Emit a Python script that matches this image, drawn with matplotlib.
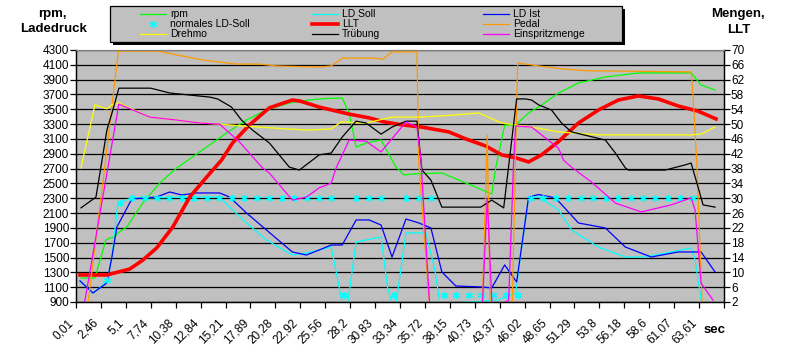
import numpy as np
import matplotlib.pyplot as plt
from matplotlib.patches import Rectangle
from matplotlib.lines import Line2D
from matplotlib.transforms import blended_transform_factory, ScaledTranslation

plt.rcParams['font.family'] = ['Liberation Sans', 'DejaVu Sans']

# Zeitachse (Kategorien), eine Einheit pro beschriftetem Tick
zeit_labels = ['0,01', '2,46', '5,1', '7,74', '10,38', '12,84', '15,21', '17,89',
               '20,28', '22,92', '25,56', '28,2', '30,83', '33,34', '35,72', '38,15',
               '40,73', '43,37', '46,02', '48,65', '51,29', '53,8', '56,18', '58,6',
               '61,07', '63,61']

# --- linke Achse: rpm / Ladedruck ---
rpm_x = [0.2, 0.76, 1.2, 1.36, 1.56, 1.68, 2.04, 2.68, 3.36, 4.04, 4.96, 6.04, 6.84, 7.64,
         8.56, 9.36, 10.0, 10.68, 10.96, 11.24, 11.64, 12.24, 12.68, 12.84, 13.16, 13.48,
         14.68, 15.64, 16.68, 16.84, 17.2, 17.64, 18.16, 18.68, 19.36, 20.16, 21.24, 22.56,
         24.68, 25.08, 25.64]
rpm = [1224, 1224, 1737, 1764, 1777, 1831, 1912, 2236, 2506, 2708, 2924, 3180, 3356, 3491,
       3585, 3626, 3645, 3652, 3450, 2991, 3045, 3086, 2816, 2722, 2614, 2627,
       2641, 2506, 2357, 2708, 3288, 3288, 3450, 3558, 3720, 3855, 3936, 3990,
       3990, 3828, 3760]

ld_soll_x = [0.16, 0.68, 1.24, 1.44, 1.68, 2.24, 5.76, 6.16, 6.84, 7.64, 8.68, 9.24, 9.76,
             10.24, 10.56, 10.68, 10.9, 11.24, 12.24, 12.5, 12.68, 12.84, 13.24, 14.04, 14.4,
             14.6, 16.08, 16.96, 17.64, 18.16, 18.56, 19.36, 19.88, 20.96, 22.04, 22.84,
             23.88, 24.68, 24.84, 25.08, 25.2]
ld_soll = [1184, 1022, 1170, 1507, 2236, 2304, 2317, 2182, 1966, 1737, 1534, 1561, 1602,
           1642, 1100, 880, 880, 1710, 1777, 1100, 880, 880, 1831, 1831, 1330,
           880, 905, 930, 1020, 2317, 2317, 2142, 1872, 1642, 1507, 1507,
           1575, 1629, 1467, 927, 850]

ld_ist_x = [0.16, 0.68, 1.24, 1.44, 1.64, 2.24, 3.24, 3.76, 4.24, 4.84, 5.76, 6.16, 6.84,
            7.64, 8.68, 9.24, 9.76, 10.24, 10.68, 11.24, 11.76, 12.24, 12.68, 13.24, 13.76,
            14.24, 14.68, 15.24, 16.28, 16.68, 17.2, 17.68, 18.16, 18.56, 19.24, 20.16,
            21.24, 22.04, 23.08, 24.16, 25.08, 25.64]
ld_ist = [1184, 1022, 1157, 1507, 1912, 2290, 2317, 2384, 2344, 2371, 2371, 2317, 2101,
          1872, 1575, 1534, 1602, 1669, 1669, 2007, 2007, 1939, 1507, 2020, 1966,
          1899, 1305, 1116, 1103, 1089, 1400, 1170, 2317, 2350, 2304, 1966,
          1899, 1642, 1507, 1575, 1575, 1305]

# normales LD-Soll: Stützpunkte alle halbe Kategorie ab 1,25
ld_normal_x0, ld_normal_dx = 1.25, 0.5
ld_normal = [1200, 2240, 2300, 2300, 2300, 2300, 2300, 2300, 2300, 2300, 2300, 2300,
             2300, 2300, 2300, 2300, 2300, 2300, 2300, 990, 2300, 2300, 2300, 990,
             2300, 2300, 2300, 990, 990, 990, 990, 990, 990, 990, 2300, 2300,
             2300, 2300, 2300, 2300, 2300, 2300, 2300, 2300, 2300, 2300, 2300, 2300]

# --- rechte Achse: Mengen / LLT ---
llt_x = [0.16, 1.24, 2.16, 2.68, 3.24, 3.88, 4.56, 5.24, 5.84, 6.28, 6.96, 7.76, 8.68, 9.0,
         9.76, 10.96, 11.76, 12.36, 13.08, 13.88, 14.96, 15.64, 16.44, 17.08, 17.64, 18.16,
         18.68, 19.36, 20.16, 20.96, 21.76, 22.56, 23.36, 24.16, 24.96, 25.68]
llt = [9.3, 9.3, 10.9, 13.3, 16.6, 22.2, 30.3, 35.7, 40.3, 44.9, 49.8, 54.4, 56.5, 56.2,
       54.6, 52.7, 51.7, 50.6, 49.8, 49.2, 47.9, 46.0, 44.1, 41.7, 40.9, 39.8,
       41.7, 45.3, 50.3, 53.8, 56.5, 57.6, 56.8, 54.9, 53.5, 51.4]

pedal_x = [0.0, 0.45, 1.2, 1.7, 3.28, 5.08, 6.44, 7.36, 8.04, 9.76, 10.24, 10.68, 12.04,
           12.3, 12.68, 13.68, 13.75, 14.2, 16.3, 16.5, 16.62, 17.5, 17.72, 18.56, 19.5,
           20.5, 24.68, 24.76, 24.92, 25.12, 25.64]
pedal = [0, 0, 41, 69.7, 69.7, 67.3, 66.2, 66.2, 65.7, 65.4, 65.7, 67.8, 67.8,
         67.5, 69.5, 69.5, 40, 0, 0, 47, 0, 0, 66.5, 65.7, 64.9,
         64.4, 64.1, 57.5, 38, 2, 0]

drehmo_x = [0.2, 0.76, 1.24, 1.44, 1.72, 2.96, 4.04, 4.96, 5.76, 6.68, 7.36, 8.44, 9.36,
            10.24, 10.64, 11.64, 12.68, 13.88, 15.24, 16.16, 17.08, 18.28, 19.36, 20.96,
            24.68, 25.08, 25.64]
drehmo = [38.2, 55.2, 54.1, 55.2, 55.7, 51.9, 51.1, 50.3, 50.0, 49.5, 49.2, 48.7, 48.4,
          48.7, 50.6, 50.3, 51.9, 51.9, 52.5, 53.0, 50.3, 49.2, 47.9, 47.1,
          47.1, 47.3, 49.2]

truebung_x = [0.2, 0.8, 0.96, 1.24, 1.48, 1.72, 3.0, 3.76, 4.48, 5.36, 5.68, 6.24, 6.64,
              7.08, 7.76, 8.56, 8.96, 9.76, 10.24, 10.68, 11.24, 11.64, 12.24, 12.68, 13.24,
              13.68, 13.88, 14.24, 14.68, 16.24, 16.68, 17.16, 17.68, 18.04, 18.28, 18.56,
              19.08, 19.48, 19.88, 21.24, 21.64, 22.04, 22.16, 23.64, 24.44, 24.68, 24.96,
              25.16, 25.64]
truebung = [27.4, 30.3, 36.8, 48.4, 53.8, 59.7, 59.7, 58.4, 57.9, 57.3, 56.8, 54.6, 51.1,
            48.4, 44.9, 38.4, 37.6, 41.7, 42.2, 46.5, 50.8, 50.3, 47.3, 49.2, 50.8,
            50.8, 37.6, 34.9, 27.6, 27.6, 29.5, 27.4, 56.8, 56.8, 56.5, 55.2,
            53.8, 50.3, 47.9, 45.7, 42.2, 38.2, 37.6, 37.6, 39.0, 39.5, 33.0,
            28.2, 27.6]

menge_x = [0.2, 0.36, 1.72, 2.96, 4.04, 4.96, 5.76, 6.56, 7.48, 7.76, 8.68, 9.24, 9.76,
           10.24, 10.44, 10.96, 11.64, 12.24, 13.24, 13.68, 13.84, 14.2, 16.3, 16.5, 16.7,
           17.36, 17.56, 17.64, 18.28, 19.36, 19.56, 19.88, 20.68, 21.64, 22.68, 23.88,
           24.68, 24.84, 25.08, 25.56]
menge = [0.5, 2.5, 55.4, 51.9, 51.1, 50.3, 50.0, 45.2, 38.2, 36.8, 29.5, 30.3, 32.8,
         34.1, 38.2, 45.7, 45.4, 42.5, 50.6, 49.2, 40.3, 0, 0, 30, 0,
         2.5, 40.3, 49.5, 49.2, 43.5, 40.3, 38.4, 34.4, 28.7, 26.3, 28.2,
         30.1, 26.8, 7.1, 2.5]

W, H = 785, 350
fig = plt.figure(figsize=(W / 100, H / 100), dpi=100)
fig.patch.set_facecolor('white')


def fx(x):
    return x / W


def fy(y):
    return 1 - y / H


ax = fig.add_axes([fx(76), fy(302), 648 / W, 252 / H])
ax.set_facecolor('#c0c0c0')
ax.set_xlim(0, 26)
ax.set_ylim(900, 4300)
ax.set_yticks(range(900, 4301, 200))
ax.set_xticks(range(27))
ax.set_xticklabels([])
ax.yaxis.grid(True, color='black', lw=0.9)
ax.set_axisbelow(True)
ax.tick_params(axis='y', direction='out', length=4, width=0.9, labelsize=8.5, pad=1)
ax.tick_params(axis='x', direction='out', length=4, width=0.9)

lw = 0.9
ax.plot(rpm_x, rpm, color='#00ff00', lw=lw)
ax.plot(ld_soll_x, ld_soll, color='#00ffff', lw=lw)
ax.plot(ld_ist_x, ld_ist, color='#0000ff', lw=lw)
ld_normal_pos = ld_normal_x0 + ld_normal_dx * np.arange(len(ld_normal))
ax.plot(ld_normal_pos, ld_normal, ls='none', marker=(6, 2, 0), ms=5, mew=1,
        color='#00ffff')

ax2 = ax.twinx()
ax2.set_ylim(2, 70)
ax2.set_yticks(range(2, 71, 4))
ax2.tick_params(axis='y', direction='out', length=4, width=0.9, labelsize=8.5, pad=1)
ax2.plot(llt_x, llt, color='#ff0000', lw=2.6)
ax2.plot(pedal_x, pedal, color='#ff9900', lw=lw)
ax2.plot(drehmo_x, drehmo, color='#ffff00', lw=lw)
ax2.plot(truebung_x, truebung, color='black', lw=lw)
ax2.plot(menge_x, menge, color='#ff00ff', lw=lw)

for a in (ax, ax2):
    a.spines['top'].set_color('#808080')
    for s in ('left', 'right', 'bottom'):
        a.spines[s].set_color('black')
        a.spines[s].set_linewidth(0.9)

# schräge Zeitbeschriftung unter der x-Achse
trans = blended_transform_factory(ax.transData, ax.transAxes) + \
    ScaledTranslation(-4 / 100, -19 / 100, fig.dpi_scale_trans)
for k, lab in enumerate(zeit_labels):
    ax.text(k, 0, lab, transform=trans, rotation=45, ha='right', va='center',
            rotation_mode='anchor', fontsize=8.5)

fig.text(fx(715), fy(330), 'sec', ha='center', va='center', fontsize=9.5, weight='bold')
fig.text(fx(52), fy(14), 'rpm,', ha='center', va='center', fontsize=9.5, weight='bold')
fig.text(fx(54), fy(29), 'Ladedruck', ha='center', va='center', fontsize=9.5, weight='bold')
fig.text(fx(738), fy(14), 'Mengen,', ha='center', va='center', fontsize=9.5, weight='bold')
fig.text(fx(739), fy(30), 'LLT', ha='center', va='center', fontsize=9.5, weight='bold')

# Legende als eigener Kasten mit Schatten
fig.patches.append(Rectangle((fx(113), fy(45)), (622 - 110) / W, (42 - 6) / H,
                             transform=fig.transFigure, facecolor='black',
                             edgecolor='black', lw=0))
fig.patches.append(Rectangle((fx(110), fy(42)), (622 - 110) / W, (42 - 6) / H,
                             transform=fig.transFigure, facecolor='#c0c0c0',
                             edgecolor='black', lw=0.9))

eintraege = [
    (140, 14, 'rpm', dict(color='#00ff00', lw=lw)),
    (140, 24, 'normales LD-Soll', None),
    (140, 34, 'Drehmo', dict(color='#ffff00', lw=lw)),
    (312, 14, 'LD Soll', dict(color='#00ffff', lw=lw)),
    (312, 24, 'LLT', dict(color='#ff0000', lw=2.6)),
    (312, 34, 'Trübung', dict(color='black', lw=lw)),
    (483, 14, 'LD Ist', dict(color='#0000ff', lw=lw)),
    (483, 24, 'Pedal', dict(color='#ff9900', lw=lw)),
    (483, 34, 'Einspritzmenge', dict(color='#ff00ff', lw=lw)),
]
for x0, y0, name, stil in eintraege:
    if stil is None:
        fig.lines.append(Line2D([fx(x0 + 13)], [fy(y0)], transform=fig.transFigure,
                                ls='none', marker=(6, 2, 0), ms=5, mew=1, color='#00ffff'))
    else:
        fig.lines.append(Line2D([fx(x0), fx(x0 + 26)], [fy(y0), fy(y0)],
                                transform=fig.transFigure, **stil))
    fig.text(fx(x0 + 30), fy(y0), name, ha='left', va='center', fontsize=7.5)

fig.savefig('out.png', dpi=100)
